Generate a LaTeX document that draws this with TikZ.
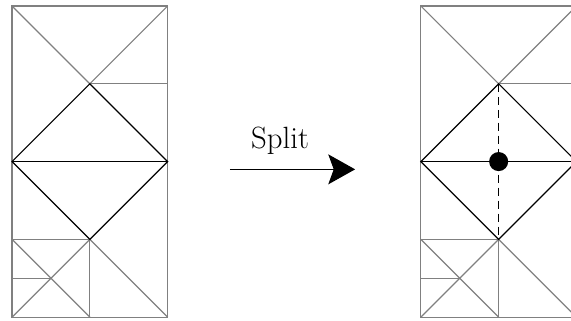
\documentclass[tikz,border=0pt]{standalone}
\usetikzlibrary{arrows.meta}
\begin{document}
\begin{tikzpicture}[
  thin gray/.style={draw=gray, line width=0.9pt},
  dia/.style={draw=black, line width=0.9pt},
  splitlbl/.style={font=\fontsize{22.5}{26}\selectfont, anchor=base, inner sep=0pt}
]
\useasboundingbox (-0.31,-0.077) rectangle (14.37,8.154);
\clip (-0.31,-0.077) rectangle (14.37,8.154);
\foreach \ox/\nm in {0/L,10.51/R}{
  \begin{scope}[xshift=\ox cm]
    \coordinate (\nm tl) at (0,8);
    \coordinate (\nm tr) at (4,8);
    \coordinate (\nm bl) at (0,0);
    \coordinate (\nm br) at (4,0);
    \coordinate (\nm top) at (2,6);
    \coordinate (\nm left) at (0,4);
    \coordinate (\nm right) at (4,4);
    \coordinate (\nm bot) at (2,2);
    \coordinate (\nm ur) at (4,6);
    \coordinate (\nm ll) at (0,2);
    \coordinate (\nm bm) at (2,0);
    \coordinate (\nm q) at (1,1);
    \coordinate (\nm qa) at (0,1);
    \draw[thin gray] (\nm bl) rectangle (\nm tr);
    \draw[thin gray] (\nm tl) -- (\nm top) -- (\nm tr);
    \draw[thin gray] (\nm top) -- (\nm ur);
    \draw[thin gray] (\nm ll) -- (\nm bot) -- (\nm bm);
    \draw[thin gray] (\nm bot) -- (\nm br);
    \draw[thin gray] (\nm ll) -- (\nm bm);
    \draw[thin gray] (\nm bl) -- (\nm bot);
    \draw[thin gray] (\nm qa) -- (\nm q);
    \draw[dia] (\nm top) -- (\nm right) -- (\nm bot) -- (\nm left) -- cycle;
    \draw[dia] (\nm left) -- (\nm right);
  \end{scope}
}
\draw[black, line width=0.9pt, dash pattern=on 6pt off 3.5pt] (Rtop) -- (Rbot);
\node[circle, fill=black, inner sep=0pt, minimum size=0.49cm] (dot) at (12.51,4) {};
\coordinate (a1) at (5.6,3.8);
\coordinate (a2) at (8.82,3.8);
\draw[line width=0.9pt, -{Stealth[length=0.69cm, width=0.77cm, inset=0.14cm]}] (a1) -- (a2);
\node[splitlbl] (lbl) at (6.89,4.34) {Split};
\end{tikzpicture}
\end{document}
